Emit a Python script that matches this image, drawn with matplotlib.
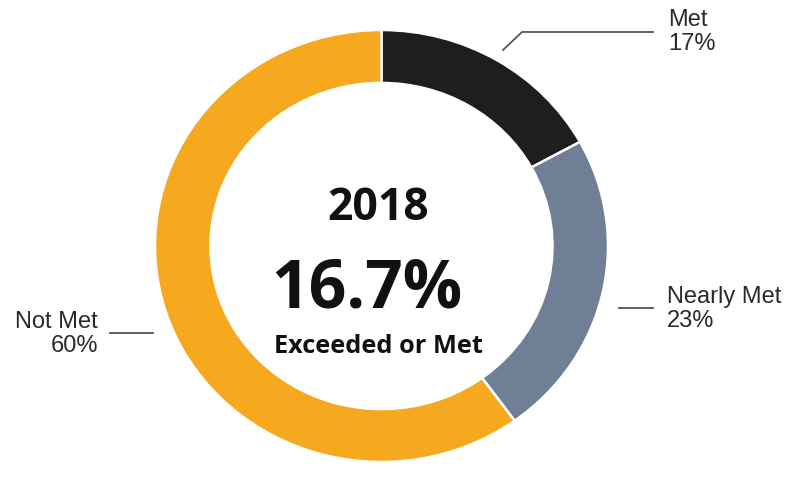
import matplotlib
matplotlib.use("Agg")
import matplotlib.pyplot as plt

# ---- data ----
categories = ["Met", "Nearly Met", "Not Met"]
values = [17, 23, 60]
pct_labels = ["17%", "23%", "60%"]
colors = ["#1e1e1e", "#6f8096", "#f6a81f"]
year = "2018"
headline = "16.7%"
headline_sub = "Exceeded or Met"

W, H = 794, 494
fig = plt.figure(figsize=(W / 100, H / 100), dpi=100)
fig.patch.set_facecolor("white")

# donut axes (pixel box of the ring)
left, right, top, bottom = 155, 608, 30, 462
ax = fig.add_axes([left / W, 1 - bottom / H, (right - left) / W, (bottom - top) / H])
ax.pie(values, colors=colors, startangle=90, counterclock=False, radius=1.0,
       wedgeprops=dict(width=0.245, edgecolor="white", linewidth=1.8))
ax.set_aspect("auto")
ax.set_xlim(-1, 1)
ax.set_ylim(-1, 1)
ax.axis("off")

# overlay axes in pixel coordinates
ov = fig.add_axes([0, 0, 1, 1])
ov.set_xlim(0, W)
ov.set_ylim(H, 0)
ov.axis("off")
ov.patch.set_visible(False)

lc = "#555555"
lw = 1.3
lab_font = dict(family=["Liberation Sans", "DejaVu Sans"], fontsize=17, color="#2a2a2a",
                linespacing=1.12)

# Met
ov.plot([503, 522, 653], [50, 32, 32], color=lc, lw=lw)
ov.text(668, 32, f"{categories[0]}\n{pct_labels[0]}", ha="left", va="center", **lab_font)
# Nearly Met
ov.plot([619, 653], [308, 308], color=lc, lw=lw)
ov.text(667, 309, f"{categories[1]}\n{pct_labels[1]}", ha="left", va="center", **lab_font)
# Not Met
ov.plot([110, 153], [333, 333], color=lc, lw=lw)
ov.text(98, 334, f"{categories[2]}\n{pct_labels[2]}", ha="right", va="center",
        multialignment="right", **lab_font)

# center text
cfont = ["Open Sans", "DejaVu Sans"]
ov.text(378, 208, year, ha="center", va="center", family=cfont, fontweight="bold",
        fontsize=32, color="#111111")
ov.text(367, 290, headline, ha="center", va="center", family=cfont, fontweight="bold",
        fontsize=47.5, color="#111111")
ov.text(378, 346, headline_sub, ha="center", va="center", family=cfont, fontweight="bold",
        fontsize=18.3, color="#111111")

fig.savefig("out.png", dpi=100, facecolor="white")
